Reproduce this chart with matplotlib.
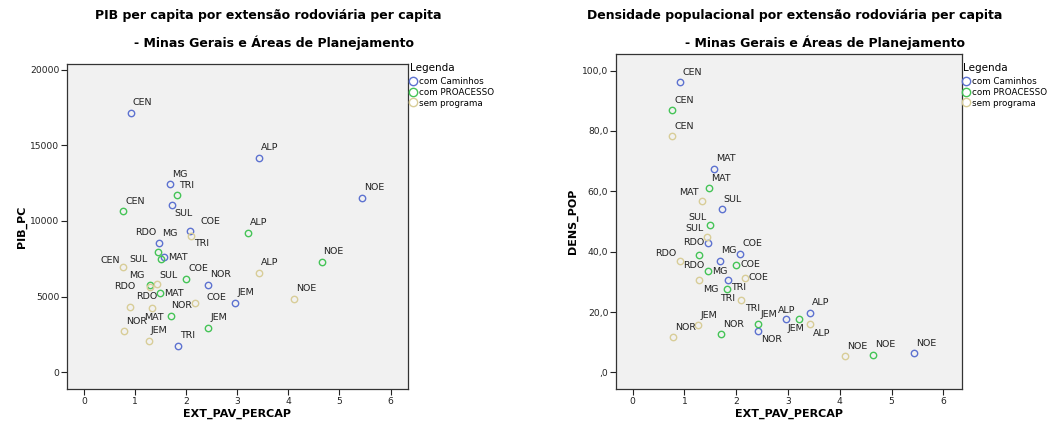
import matplotlib
matplotlib.use("Agg")
import matplotlib.pyplot as plt
from matplotlib.lines import Line2D

plt.rcParams['font.family'] = ['DejaVu Sans']

regions = ['ALP', 'CEN', 'COE', 'JEM', 'MAT', 'MG', 'NOE', 'NOR', 'RDO', 'SUL', 'TRI']
groups = ['com Caminhos', 'com PROACESSO', 'sem programa']

# EXT_PAV_PERCAP per group
ext_caminhos = [3.42, 0.92, 2.08, 2.96, 1.57, 1.68, 5.44, 2.43, 1.46, 1.72, 1.85]
ext_proacesso = [3.21, 0.77, 2.00, 2.43, 1.48, 1.45, 4.65, 1.70, 1.29, 1.50, 1.82]
ext_sem = [3.43, 0.77, 2.17, 1.27, 1.34, 1.29, 4.11, 0.79, 0.91, 1.43, 2.10]

# PIB_PC per group
pib_caminhos = [14170, 17170, 9345, 4600, 7610, 12430, 11550, 5780, 8570, 11070, 1740]
pib_proacesso = [9210, 10650, 6170, 2930, 5220, 7980, 7295, 3740, 5750, 7490, 11710]
pib_sem = [6590, 6940, 4580, 2070, 4230, 5620, 4850, 2710, 4340, 5820, 9015]

# DENS_POP per group
dens_caminhos = [19.7, 96.1, 39.3, 17.7, 67.4, 37.0, 6.4, 13.8, 43.0, 54.0, 30.7]
dens_proacesso = [17.8, 86.8, 35.6, 16.0, 61.0, 33.5, 5.8, 12.6, 38.9, 48.9, 27.7]
dens_sem = [16.0, 78.2, 31.4, 15.7, 56.9, 30.5, 5.3, 11.6, 36.9, 44.9, 24.0]

x_ticks = [0, 1, 2, 3, 4, 5, 6]
pib_ticks = [0, 5000, 10000, 15000, 20000]
pib_ticklabels = ['0', '5000', '10000', '15000', '20000']
dens_ticks = [0, 20, 40, 60, 80, 100]
dens_ticklabels = [',0', '20,0', '40,0', '60,0', '80,0', '100,0']

colors = ['#5d72d0', '#45c457', '#d8cd98']

# label placement (pixel offsets: dx, dy-down, alignment) -- styling only
DEF = (2, -10, 'left')
off_left = [
    {'SUL': (3, 9, 'left'), 'COE': (10, -9, 'left'), 'RDO': (-2, -10, 'right'), 'MAT': (4, 0, 'left')},
    {'MG': (4, -18, 'left'), 'SUL': (-13, 1, 'right'), 'MAT': (5, 0, 'left'), 'RDO': (-14, 1, 'right'),
     'NOR': (0, -10, 'left')},
    {'CEN': (-3, -7, 'right'), 'SUL': (2, -9, 'left'), 'MG': (-5, -12, 'right'), 'TRI': (3, 8, 'left'),
     'RDO': (6, -10, 'left'), 'MAT': (-8, 9, 'left'), 'COE': (12, -5, 'left')},
]
off_right = [
    {'RDO': (-4, 0, 'right'), 'TRI': (3, 8, 'left'), 'JEM': (2, 10, 'left'), 'NOR': (3, 9, 'left')},
    {'SUL': (-4, -7, 'right'), 'RDO': (-16, 10, 'left'), 'MG': (4, 0, 'left'), 'COE': (4, 0, 'left'),
     'TRI': (-7, 10, 'left'), 'ALP': (-3, -8, 'right')},
    {'MAT': (-3, -8, 'right'), 'SUL': (-3, -8, 'right'), 'RDO': (-3, -8, 'right'), 'COE': (4, 0, 'left'),
     'MG': (4, 9, 'left'), 'TRI': (4, 9, 'left'), 'ALP': (3, 9, 'left')},
]

W, H = 1051, 433
fig = plt.figure(figsize=(W / 100, H / 100), dpi=100)
fig.patch.set_facecolor('white')


def make_axes(l, r, t, b):
    return fig.add_axes([l / W, 1 - b / H, (r - l) / W, (b - t) / H])


axL = make_axes(67, 408, 64, 389)
axR = make_axes(616, 962, 54, 389)

xs = [ext_caminhos, ext_proacesso, ext_sem]
panels = [
    (axL, [pib_caminhos, pib_proacesso, pib_sem], off_left, (-0.33, 6.34), (-1120, 20390),
     pib_ticks, pib_ticklabels, 'PIB_PC', 22),
    (axR, [dens_caminhos, dens_proacesso, dens_sem], off_right, (-0.32, 6.36), (-5.5, 105.5),
     dens_ticks, dens_ticklabels, 'DENS_POP', 573),
]

for ax, ys, offs, xl, yl, yt, ytl, ylab, ylab_x in panels:
    ax.set_facecolor('#f1f1f1')
    for gi in range(3):
        ax.plot(xs[gi], ys[gi], linestyle='none', marker='o', markersize=4.6,
                markerfacecolor='none', markeredgecolor=colors[gi], markeredgewidth=1.0,
                label=groups[gi], zorder=3)
        for name, xv, yv in zip(regions, xs[gi], ys[gi]):
            dx, dy, ha = offs[gi].get(name, DEF)
            ax.annotate(name, (xv, yv), xytext=(dx, -dy), textcoords='offset pixels',
                        ha=ha, va='center', fontsize=6.8, color='#222222', zorder=4)
    ax.set_xlim(*xl)
    ax.set_ylim(*yl)
    ax.set_xticks(x_ticks)
    ax.set_yticks(yt)
    ax.set_yticklabels(ytl)
    ax.tick_params(direction='out', length=4, width=0.8, labelsize=6.6, colors='#222222', pad=1.5)
    for s in ax.spines.values():
        s.set_color('#333333')
        s.set_linewidth(0.9)
    bb = ax.get_position()
    ax.set_xlabel('EXT_PAV_PERCAP', fontsize=8, fontweight='bold')
    ax.xaxis.label.set_va('center')
    ax.xaxis.set_label_coords(0.5, -(414 - 389) / (bb.height * H))
    ax.set_ylabel(ylab, fontsize=8, fontweight='bold')
    ax.yaxis.label.set_va('center')
    ax.yaxis.set_label_coords((ylab_x - bb.x0 * W) / (bb.width * W), 0.5)

# titles
fig.text(268 / W, 1 - 16 / H, 'PIB per capita por extensão rodoviária per capita',
         ha='center', va='center', fontsize=9, fontweight='bold')
fig.text(274 / W, 1 - 43 / H, '- Minas Gerais e Áreas de Planejamento',
         ha='center', va='center', fontsize=9, fontweight='bold')
fig.text(795 / W, 1 - 16 / H, 'Densidade populacional por extensão rodoviária per capita',
         ha='center', va='center', fontsize=9, fontweight='bold')
fig.text(825 / W, 1 - 43 / H, '- Minas Gerais e Áreas de Planejamento',
         ha='center', va='center', fontsize=9, fontweight='bold')

# legends
for ax, lx in [(axL, 410), (axR, 963)]:
    fig.text(lx / W, 1 - 68 / H, 'Legenda', ha='left', va='center', fontsize=7.5)
    handles = [Line2D([], [], linestyle='none', marker='o', markersize=6, markerfacecolor='none',
                      markeredgecolor=c, markeredgewidth=1.0) for c in colors]
    ax.legend(handles, groups, loc='upper left', bbox_to_anchor=((lx - 1) / W, 1 - 77 / H),
              bbox_transform=fig.transFigure, frameon=False, fontsize=6.3,
              handlelength=0.8, handletextpad=0.3, labelspacing=0.2, borderpad=0,
              borderaxespad=0)

fig.savefig('out.png', dpi=100)
